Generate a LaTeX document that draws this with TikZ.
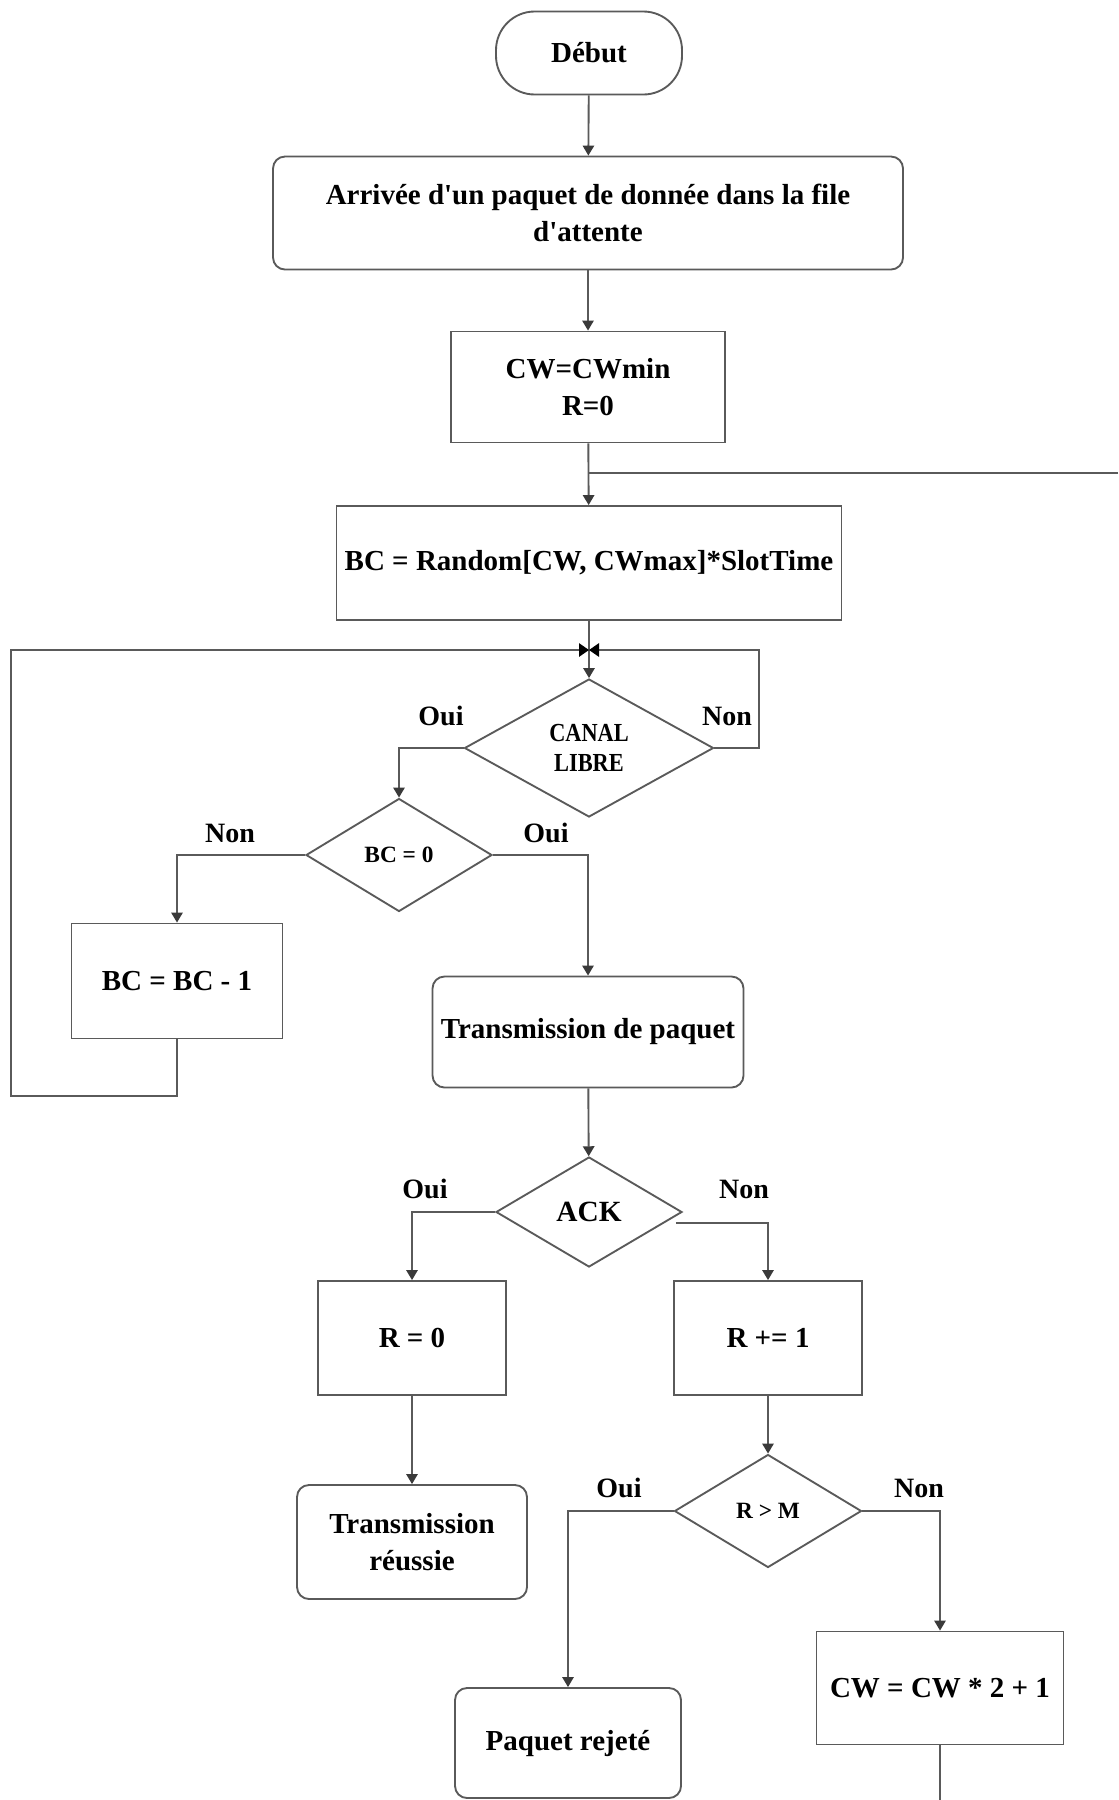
\documentclass[tikz,border=0pt]{standalone}
\usepackage{fontspec}
\setmainfont{Liberation Serif}
\newfontfamily\condfont{Liberation Serif}[FakeStretch=0.86]
\usetikzlibrary{shapes.geometric,arrows.meta,calc}
\definecolor{linegray}{HTML}{5A5A5A}
\definecolor{tipgray}{HTML}{3A3A3A}
\newcommand\boxfont{\fontsize{21.75pt}{27.75pt}\selectfont\bfseries}
\newcommand\decfont{\fontsize{17.5pt}{21pt}\selectfont\bfseries}
\newcommand\canalfont{\condfont\fontsize{19.5pt}{23pt}\selectfont\bfseries}
\newcommand\ackfont{\fontsize{22pt}{25pt}\selectfont\bfseries}
\newcommand\lblfont{\fontsize{21pt}{25pt}\selectfont\bfseries}
\tikzset{
  bw/.style={minimum width=#1*0.75pt},
  bh/.style={minimum height=#1*0.75pt},
  conn/.style={draw=linegray, line width=1.4pt},
  arr/.style={conn, -{Triangle[length=7.5pt,width=8.5pt,color=tipgray]}},
  merge/.style={conn, -{Triangle[length=7.5pt,width=10pt,color=black]}},
  sbox/.style={rectangle, draw=linegray, line width=1.4pt, fill=white,
               align=center, inner sep=0pt, font=\boxfont},
  rbox/.style={sbox, rounded corners=9pt},
  term/.style={sbox, rounded corners=29pt},
  dec/.style={diamond, draw=linegray, line width=1.4pt, fill=white,
              align=center, inner sep=0pt, font=\decfont},
  lbl/.style={font=\lblfont, inner sep=0pt}
}
\begin{document}
\begin{tikzpicture}[x=0.75pt,y=-0.75pt]
\useasboundingbox (0,0) rectangle (1118,1800);
\fill[white] (0,0) rectangle (1118,1800);
\clip (0,0) rectangle (1118,1800);

% process steps
\node[term, bw=186, bh=83]  (debut)   at (589,53)   {Début};
\node[rbox, bw=630, bh=113] (arrivee) at (588,213)  {Arrivée d\textquotesingle un paquet de donnée dans la file\\d\textquotesingle attente};
\node[sbox, bw=274, bh=111] (cw)      at (588,387)  {CW=CWmin\\R=0};
\node[sbox, bw=505, bh=114] (bc)      at (589,563)  {BC = Random[CW, CWmax]*SlotTime};
\node[dec,  bw=249, bh=138, font=\canalfont] (canal) at (589,748) {CANAL\\LIBRE};
\node[dec,  bw=186, bh=113] (bczero)  at (399,855)  {BC = 0};
\node[sbox, bw=211, bh=115] (bcm)     at (177,981)  {BC = BC - 1};
\node[rbox, bw=311, bh=111] (trans)   at (588,1032) {Transmission de paquet};
\node[dec,  bw=186, bh=110, font=\ackfont] (ack) at (589,1212) {ACK};
\node[sbox, bw=188, bh=114] (rz)      at (412,1338) {R = 0};
\node[sbox, bw=188, bh=114] (rp)      at (768,1338) {R += 1};
\node[rbox, bw=230, bh=114] (ok)      at (412,1542) {Transmission\\réussie};
\node[dec,  bw=187, bh=113] (rm)      at (768,1511) {R > M};
\node[rbox, bw=226, bh=110] (rej)     at (568,1743) {Paquet rejeté};
\node[sbox, bw=247, bh=113] (cwd)     at (940,1688) {CW = CW * 2 + 1};

% helper points
\coordinate (jn)     at (589,650);   % loop merge above the channel test
\coordinate (retin)  at (1118,473);  % return line entering from the right
\coordinate (loopBL) at (11,1096);
\coordinate (nonR)   at (759,650);
\coordinate (ackNo)  at ([shift={(-7,11)}]ack.east);
\coordinate (bottom) at (940,1800);

% straight flow
\draw[arr] (debut) -- (arrivee);
\draw[arr] (arrivee) -- (cw);
\draw[arr] (cw) -- (bc);
\draw[conn] (retin) -- (cw.south |- retin);
\draw[arr] (bc) -- (canal);

% channel test
\draw[merge] (canal.east) -| (nonR) -- (jn);
\draw[arr] (canal.west) -| (bczero.north);

% backoff counter test
\draw[arr] (bczero.west) -| (bcm.north);
\draw[arr] (bczero.east) -| (trans.north);
\draw[merge] (bcm.south) |- (loopBL) |- (jn);

% acknowledgement
\draw[arr] (trans) -- (ack);
\draw[arr] (ack.west) -| (rz.north);
\draw[arr] (ackNo) -| (rp.north);
\draw[arr] (rz) -- (ok);
\draw[arr] (rp) -- (rm);

% retry limit
\draw[arr] (rm.west) -| (rej.north);
\draw[arr] (rm.east) -| (cwd.north);
\draw[conn] (cwd.south) -- (bottom);

% branch labels
\node[lbl] (l1) at (441,716)  {Oui};
\node[lbl] (l2) at (727,716)  {Non};
\node[lbl] (l3) at (230,833)  {Non};
\node[lbl] (l4) at (546,833)  {Oui};
\node[lbl] (l5) at (425,1189) {Oui};
\node[lbl] (l6) at (744,1189) {Non};
\node[lbl] (l7) at (619,1488) {Oui};
\node[lbl] (l8) at (919,1488) {Non};
\end{tikzpicture}
\end{document}
